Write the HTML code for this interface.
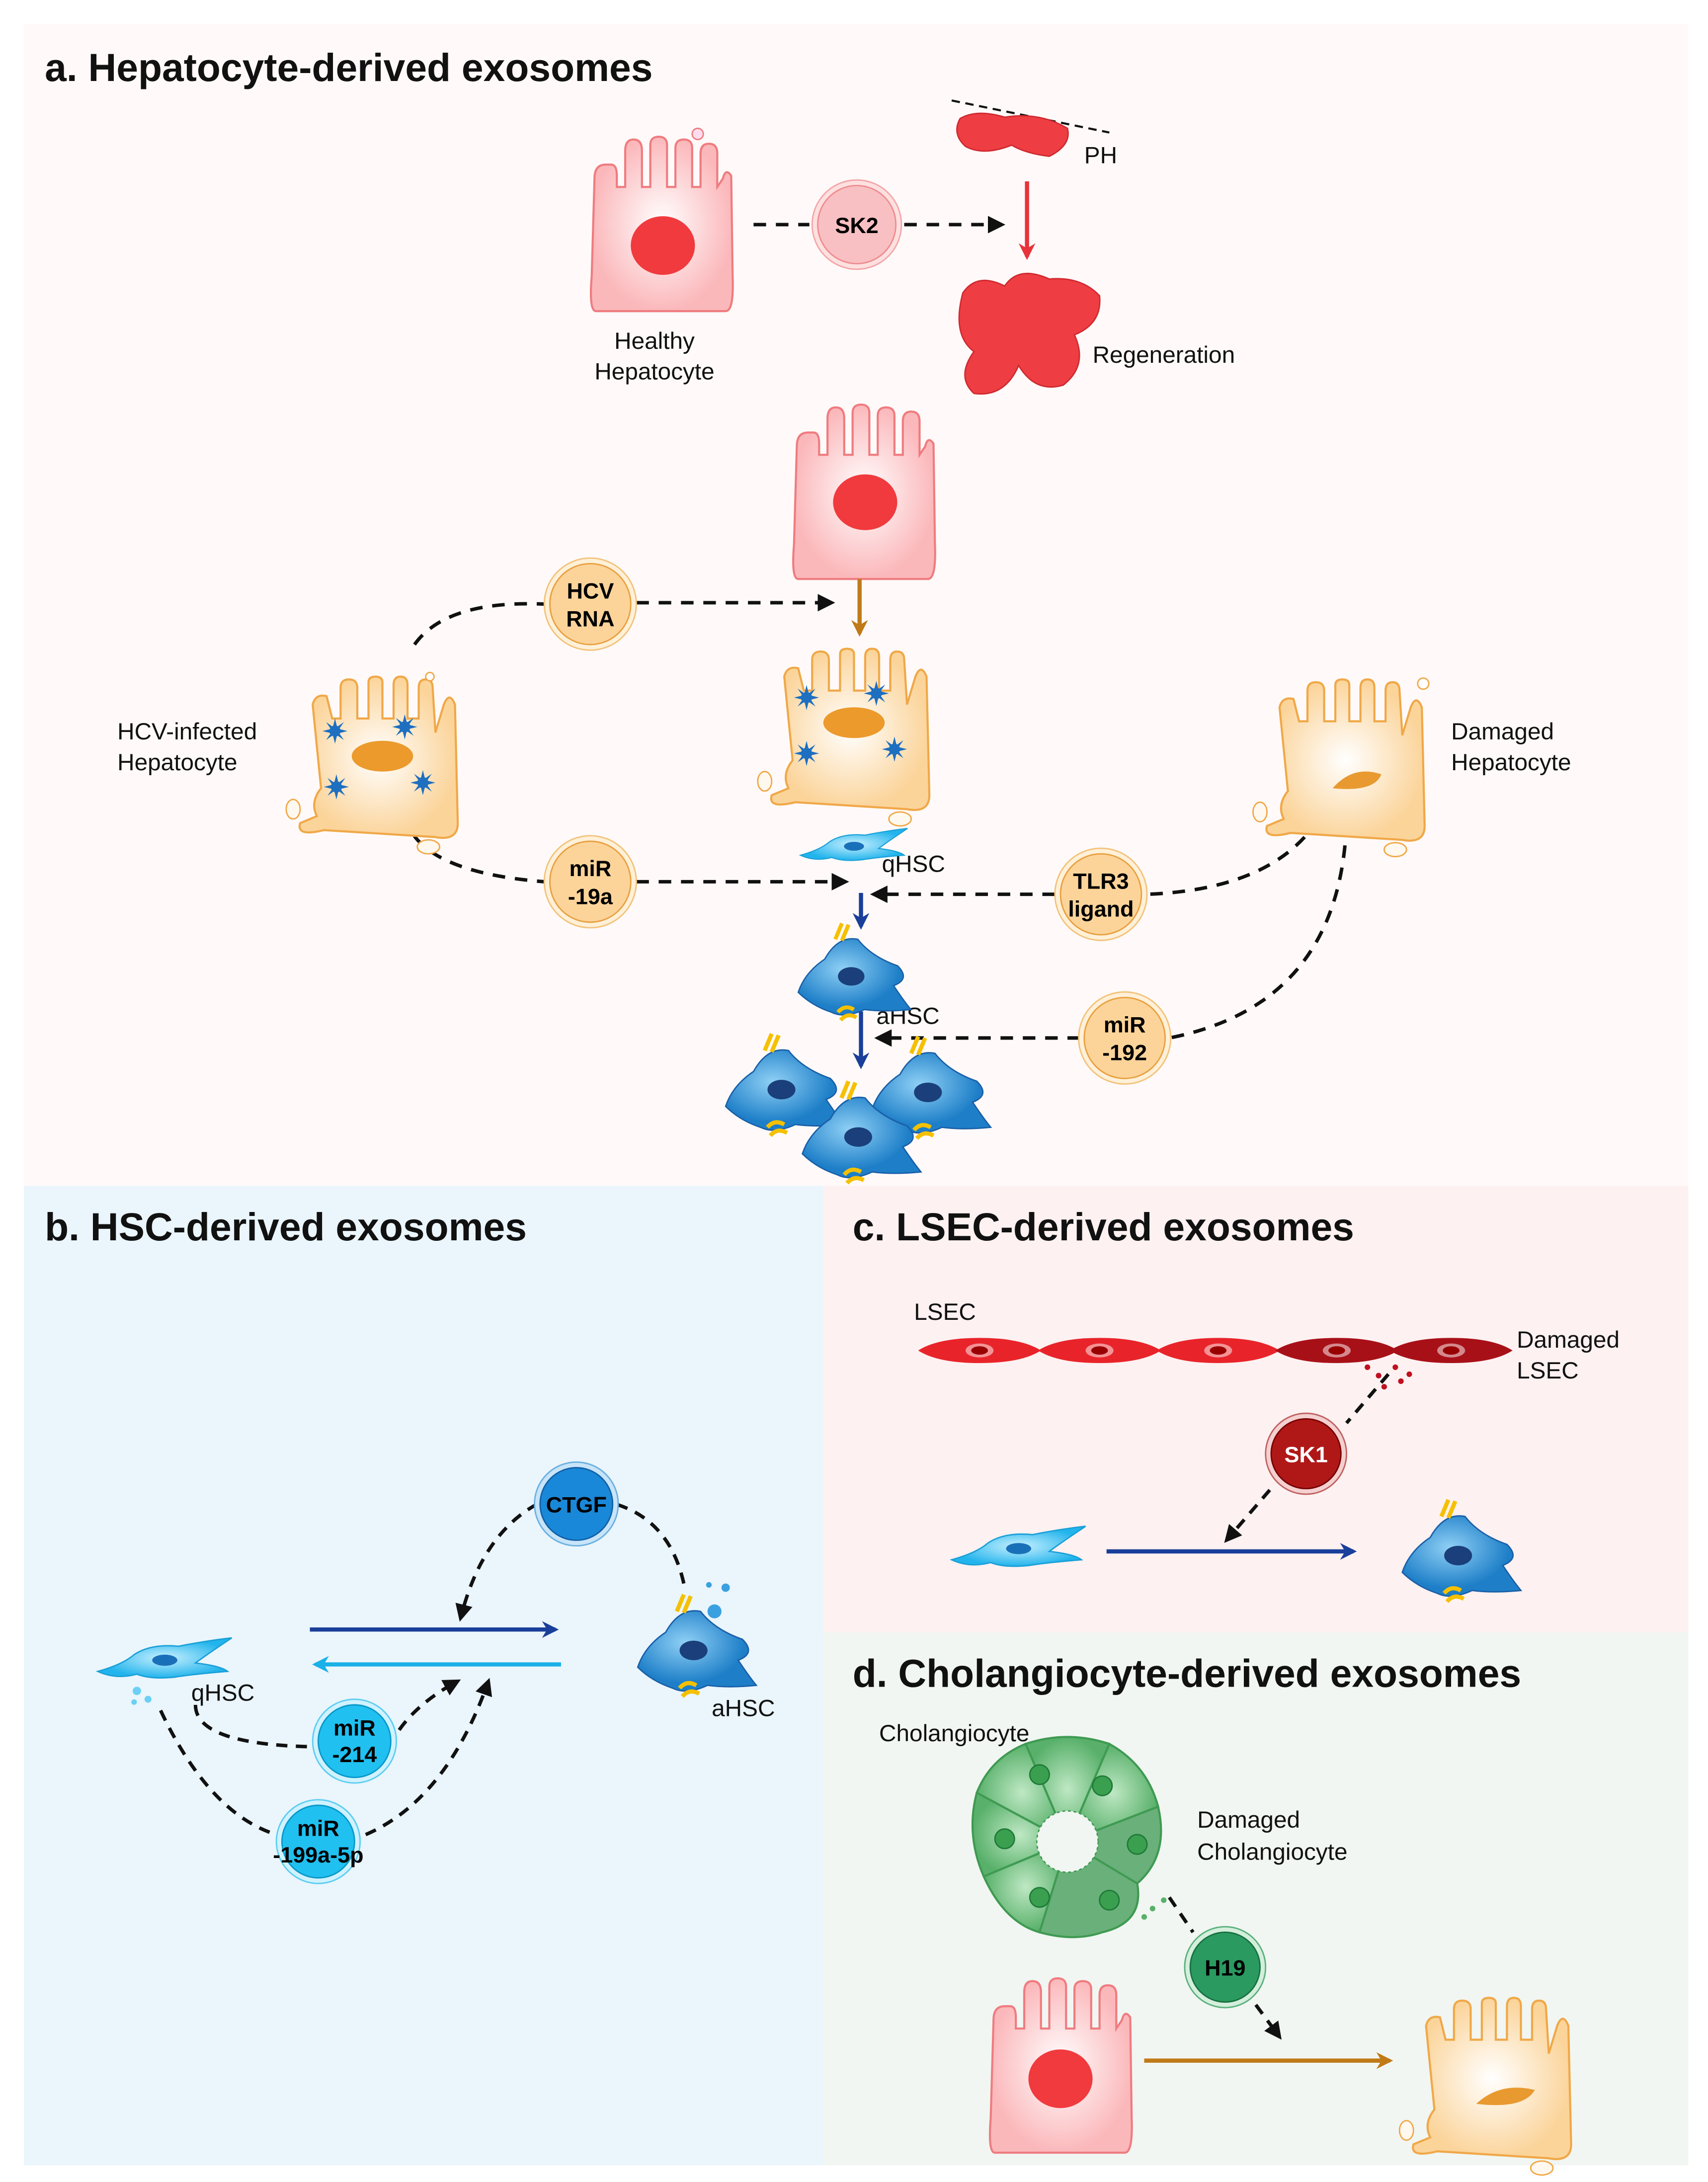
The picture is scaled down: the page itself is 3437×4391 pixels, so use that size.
<!DOCTYPE html>
<html><head><meta charset="utf-8"><style>html,body{margin:0;padding:0;background:#fff}svg{display:block}text{font-family:"Liberation Sans",sans-serif}</style></head><body>
<svg width="3437" height="4391" viewBox="0 0 1224 1564" xmlns="http://www.w3.org/2000/svg">
<defs>
<radialGradient id="gp"><stop offset="0" stop-color="#fff"/><stop offset="1" stop-color="#fbb8bb"/></radialGradient>
<radialGradient id="go"><stop offset="0" stop-color="#fff"/><stop offset="1" stop-color="#fbd49a"/></radialGradient>
<radialGradient id="gb" cx=".4" cy=".4"><stop offset="0" stop-color="#8fd0f5"/><stop offset="1" stop-color="#1e7fc8"/></radialGradient>
<radialGradient id="gq"><stop offset="0" stop-color="#c8f0ff"/><stop offset="1" stop-color="#22b4ec"/></radialGradient>
<radialGradient id="gg"><stop offset="0" stop-color="#bfe8c4"/><stop offset="1" stop-color="#58b06a"/></radialGradient>
<marker id="ah" viewBox="0 0 10 10" refX="8" refY="5" markerWidth="5" markerHeight="5" orient="auto"><path d="M0,0L10,5L0,10z" fill="#111"/></marker>
<marker id="ab" viewBox="0 0 10 10" refX="8" refY="5" markerWidth="4" markerHeight="4" orient="auto"><path d="M0,0L10,5L0,10L3,5z" fill="#1a3f9a"/></marker>
<marker id="al" viewBox="0 0 10 10" refX="8" refY="5" markerWidth="4" markerHeight="4" orient="auto"><path d="M0,0L10,5L0,10L3,5z" fill="#1ab0e8"/></marker>
<marker id="ar" viewBox="0 0 10 10" refX="8" refY="5" markerWidth="4" markerHeight="4" orient="auto"><path d="M0,0L10,5L0,10L3,5z" fill="#e8333a"/></marker>
<marker id="ao" viewBox="0 0 10 10" refX="8" refY="5" markerWidth="4" markerHeight="4" orient="auto"><path d="M0,0L10,5L0,10L3,5z" fill="#c07a18"/></marker>
<g id="hep">
<path d="M5,125 Q0,125 2,100 L4,30 Q4,20 12,20 L16,20 Q20,20 20,28 L20,36 L26,36 L26,10 Q26,2 32,2 Q38,2 38,10 L38,36 L44,36 L44,6 Q44,0 50,0 Q56,0 56,6 L56,36 L62,36 L62,8 Q62,2 68,2 Q74,2 74,8 L74,36 L80,36 L80,12 Q80,5 86,5 Q92,5 92,12 L92,36 L96,30 Q98,22 102,28 L103,100 Q104,125 98,125 Z" fill="url(#gp)" stroke="#ef7c80" stroke-width="1.5"/>
</g>
<g id="dam">
<path d="M15,100 Q10,90 18,80 L12,20 Q14,12 22,14 L26,30 L32,30 L32,8 Q32,2 38,2 Q44,2 44,8 L44,30 L52,30 L52,4 Q52,0 57,0 Q62,0 62,4 L62,30 L70,30 L70,6 Q70,0 75,0 Q80,0 80,6 L80,30 L88,30 L88,8 Q88,2 93,2 Q98,2 98,8 L100,40 L106,20 Q110,10 114,20 L116,105 Q116,118 100,115 L20,110 Q0,115 3,105 Z" fill="url(#go)" stroke="#f0a848" stroke-width="1.5"/>
<ellipse cx="95" cy="122" rx="8" ry="5" fill="#fff8ee" stroke="#f0a848"/>
<ellipse cx="-2" cy="95" rx="5" ry="7" fill="#fff8ee" stroke="#f0a848"/>
</g>
<g id="star" fill="#1e6fc0"><circle r="4"/><path d="M0,-9L1.5,-3L6.4,-6.4L3,-1.5L9,0L3,1.5L6.4,6.4L1.5,3L0,9L-1.5,3L-6.4,6.4L-3,1.5L-9,0L-3,-1.5L-6.4,-6.4L-1.5,-3Z"/></g>
<g id="ahsc"><path d="M-40,15 Q-35,0 -20,-10 Q-10,-28 5,-25 Q15,-12 35,-5 Q45,5 32,10 Q40,22 45,28 Q25,30 10,28 Q-5,35 -15,30 Q-30,25 -40,15Z" fill="url(#gb)" stroke="#1a5fa8"/><ellipse cx="0" cy="3" rx="10" ry="7" fill="#1a3f7a"/><path d="M-12,-25 l5,-12 M-7,-24 l5,-12 M-10,30 q5,-6 12,-2 M-8,36 q5,-6 12,-2" stroke="#f5c000" stroke-width="3" fill="none"/></g>
<g id="qhsc"><path d="M-48,10 Q-30,5 -22,-2 Q-10,-10 10,-8 Q30,-12 48,-14 Q30,-2 22,4 Q40,6 45,10 Q20,12 8,14 Q-10,16 -20,12 Q-35,16 -48,10Z" fill="url(#gq)" stroke="#1aa0d8"/><ellipse cx="0" cy="2" rx="9" ry="4" fill="#1a70b8"/></g>
<g id="lsec"><path d="M-44,0 Q-30,-9 0,-9 Q30,-9 44,0 Q30,9 0,9 Q-30,9 -44,0Z"/><ellipse rx="10" ry="5" fill="#fff" opacity=".5"/><ellipse rx="6" ry="3" fill="#900"/></g>
</defs>
<rect width="1224" height="1564" fill="#fff"/>
<rect x="17" y="17" width="1193" height="833" fill="#fffaf9"/>
<rect x="17" y="850" width="573" height="702" fill="#eaf5fc"/>
<rect x="590" y="850" width="620" height="320" fill="#fdf1f1"/>
<rect x="590" y="1170" width="620" height="382" fill="#f1f6f2"/>
<g font-weight="bold" font-size="28" fill="#111">
<text x="32" y="58">a. Hepatocyte-derived exosomes</text>
<text x="32" y="889">b. HSC-derived exosomes</text>
<text x="611" y="889">c. LSEC-derived exosomes</text>
<text x="611" y="1209">d. Cholangiocyte-derived exosomes</text>
</g>
<g font-size="17" fill="#111">
<text x="469" y="250" text-anchor="middle">Healthy</text><text x="469" y="272" text-anchor="middle">Hepatocyte</text>
<text x="777" y="117">PH</text><text x="783" y="260">Regeneration</text>
<text x="84" y="530">HCV-infected</text><text x="84" y="552">Hepatocyte</text>
<text x="1040" y="530">Damaged</text><text x="1040" y="552">Hepatocyte</text>
<text x="632" y="625">qHSC</text><text x="628" y="734">aHSC</text>
<text x="137" y="1219">qHSC</text><text x="510" y="1230">aHSC</text>
<text x="655" y="946">LSEC</text><text x="1087" y="966">Damaged</text><text x="1087" y="988">LSEC</text>
<text x="630" y="1248">Cholangiocyte</text><text x="858" y="1310">Damaged</text><text x="858" y="1333">Cholangiocyte</text>
</g>
<use href="#hep" x="422" y="98"/><ellipse cx="475" cy="176" rx="23" ry="21" fill="#f03a3e"/>
<circle cx="500" cy="96" r="4" fill="#fde" stroke="#ef7c80"/>
<use href="#hep" x="567" y="290"/><ellipse cx="620" cy="360" rx="23" ry="20" fill="#f03a3e"/>
<g fill="none" stroke="#111" stroke-width="2.5" stroke-dasharray="9,7">
<path d="M540,161H580"/><path d="M648,161H718" marker-end="url(#ah)"/>
<path d="M297,462Q320,430 390,433"/><path d="M456,432H596" marker-end="url(#ah)"/>
<path d="M290,585Q300,625 390,632"/><path d="M456,632H606" marker-end="url(#ah)"/>
<path d="M935,600Q900,638 822,641"/><path d="M756,641H626" marker-end="url(#ah)"/>
<path d="M965,590Q960,720 838,744"/><path d="M774,744H629" marker-end="url(#ah)"/>
</g>
<path d="M682,72L795,95" stroke="#111" stroke-width="1.5" stroke-dasharray="6,4"/>
<path d="M688,85Q700,78 720,84Q745,80 765,92Q768,104 752,112Q735,110 725,104Q705,112 692,105Q682,96 688,85Z" fill="#ee3e44" stroke="#d02a30"/>
<path d="M690,210Q700,195 720,205Q730,190 752,200Q775,198 788,212Q790,232 770,240Q780,262 762,276Q742,282 730,262Q720,285 698,282Q685,270 698,252Q682,240 690,210Z" fill="#ee3e44" stroke="#d02a30"/>
<path d="M736,130V184" stroke="#e8333a" stroke-width="3" marker-end="url(#ar)"/>
<circle cx="614" cy="161" r="32" fill="#fde0e0" stroke="#f5a5a8"/><circle cx="614" cy="161" r="28" fill="#f8c0c2" stroke="#ef8c90"/>
<text x="614" y="167" text-anchor="middle" font-weight="bold" font-size="16">SK2</text>
<path d="M616,415V454" stroke="#c07a18" stroke-width="3" marker-end="url(#ao)"/>
<use href="#dam" x="550" y="465"/><ellipse cx="612" cy="518" rx="22" ry="11" fill="#ec9a2c"/>
<use href="#star" x="578" y="500"/><use href="#star" x="628" y="497"/><use href="#star" x="578" y="540"/><use href="#star" x="641" y="537"/>
<use href="#dam" x="212" y="485"/><ellipse cx="274" cy="542" rx="22" ry="11" fill="#ec9a2c"/>
<use href="#star" x="240" y="524"/><use href="#star" x="290" y="521"/><use href="#star" x="241" y="564"/><use href="#star" x="303" y="561"/>
<use href="#dam" x="905" y="487"/><path d="M955,565Q970,548 990,555Q985,568 955,565Z" fill="#e89a30"/>
<circle cx="1020" cy="490" r="4" fill="#fff" stroke="#f0a848"/><circle cx="308" cy="485" r="3" fill="#fff" stroke="#f0a848"/>
<g font-weight="bold" font-size="16" text-anchor="middle">
<circle cx="423" cy="433" r="33" fill="#fff0d8" stroke="#f3c27a"/><circle cx="423" cy="433" r="29" fill="#fcd49a" stroke="#e8a040"/><text x="423" y="429">HCV</text><text x="423" y="449">RNA</text>
<circle cx="423" cy="632" r="33" fill="#fff0d8" stroke="#f3c27a"/><circle cx="423" cy="632" r="29" fill="#fcd49a" stroke="#e8a040"/><text x="423" y="628">miR</text><text x="423" y="648">-19a</text>
<circle cx="789" cy="641" r="33" fill="#fff0d8" stroke="#f3c27a"/><circle cx="789" cy="641" r="29" fill="#fcd49a" stroke="#e8a040"/><text x="789" y="637">TLR3</text><text x="789" y="657">ligand</text>
<circle cx="806" cy="744" r="33" fill="#fff0d8" stroke="#f3c27a"/><circle cx="806" cy="744" r="29" fill="#fcd49a" stroke="#e8a040"/><text x="806" y="740">miR</text><text x="806" y="760">-192</text>
</g>
<use href="#qhsc" transform="translate(612,605) scale(.8)"/>
<path d="M617,640V664" stroke="#1a3f9a" stroke-width="3" marker-end="url(#ab)"/>
<use href="#ahsc" transform="translate(610,697) scale(.95)"/>
<path d="M617,725V764" stroke="#1a3f9a" stroke-width="3" marker-end="url(#ab)"/>
<use href="#ahsc" x="560" y="778"/><use href="#ahsc" x="665" y="780"/><use href="#ahsc" x="615" y="812"/>
<use href="#qhsc" x="118" y="1188"/>
<circle cx="98" cy="1212" r="3" fill="#6cd0f5"/><circle cx="106" cy="1218" r="2.5" fill="#6cd0f5"/><circle cx="96" cy="1220" r="2" fill="#6cd0f5"/>
<use href="#ahsc" x="497" y="1180"/>
<circle cx="512" cy="1155" r="5" fill="#3aa0e0"/><circle cx="520" cy="1138" r="3" fill="#3aa0e0"/><circle cx="508" cy="1136" r="2" fill="#3aa0e0"/>
<path d="M222,1168H398" stroke="#1a3f9a" stroke-width="3" marker-end="url(#ab)"/>
<path d="M402,1193H226" stroke="#1ab0e8" stroke-width="3" marker-end="url(#al)"/>
<g fill="none" stroke="#111" stroke-width="2.5" stroke-dasharray="8,6">
<path d="M490,1135Q480,1090 441,1078"/><path d="M385,1078Q345,1100 330,1160" marker-end="url(#ah)"/>
<path d="M140,1222Q140,1250 222,1252"/><path d="M286,1240Q300,1220 328,1205" marker-end="url(#ah)"/>
<path d="M115,1226Q150,1300 198,1315"/><path d="M262,1315Q320,1290 350,1205" marker-end="url(#ah)"/>
<path d="M995,985L965,1020"/><path d="M910,1068L879,1104" marker-end="url(#ah)"/>
<path d="M838,1360L855,1385"/><path d="M900,1437L917,1460" marker-end="url(#ah)"/>
</g>
<g font-weight="bold" font-size="16" text-anchor="middle">
<circle cx="413" cy="1078" r="30" fill="#c8e4f8" stroke="#6ab0e0"/><circle cx="413" cy="1078" r="26" fill="#1a88d8" stroke="#1060a8"/><text x="413" y="1084">CTGF</text>
<circle cx="254" cy="1248" r="30" fill="#d0f2ff" stroke="#5ccdf2"/><circle cx="254" cy="1248" r="26" fill="#20c0f0" stroke="#0898c8"/><text x="254" y="1244">miR</text><text x="254" y="1263">-214</text>
<circle cx="228" cy="1320" r="30" fill="#d0f2ff" stroke="#5ccdf2"/><circle cx="228" cy="1320" r="26" fill="#20c0f0" stroke="#0898c8"/><text x="228" y="1316">miR</text><text x="228" y="1335">-199a-5p</text>
<circle cx="936" cy="1042" r="29" fill="#f4d0d0" stroke="#c06060"/><circle cx="936" cy="1042" r="25" fill="#b01818" stroke="#700"/><text x="936" y="1048" fill="#fff">SK1</text>
<circle cx="878" cy="1410" r="29" fill="#d4eedc" stroke="#58b07a"/><circle cx="878" cy="1410" r="25" fill="#2a9a60" stroke="#17703f"/><text x="878" y="1416">H19</text>
</g>
<use href="#lsec" x="702" y="968" fill="#e8242a"/><use href="#lsec" x="788" y="968" fill="#e8242a"/><use href="#lsec" x="873" y="968" fill="#e8242a"/>
<use href="#lsec" x="958" y="968" fill="#a81018"/><use href="#lsec" x="1040" y="968" fill="#a81018"/>
<g fill="#c01020"><circle cx="980" cy="980" r="2"/><circle cx="988" cy="986" r="2"/><circle cx="1000" cy="980" r="2"/><circle cx="1010" cy="985" r="2"/><circle cx="1004" cy="990" r="2"/><circle cx="992" cy="994" r="2"/></g>
<use href="#qhsc" x="730" y="1108"/>
<path d="M793,1112H970" stroke="#1a3f9a" stroke-width="3" marker-end="url(#ab)"/>
<use href="#ahsc" x="1045" y="1112"/>
<g stroke="#3f9a52" stroke-width="1.5">
<path d="M765,1320L735,1250Q765,1240 795,1250Z" fill="url(#gg)"/>
<path d="M765,1320L795,1250Q822,1265 830,1295Z" fill="url(#gg)"/>
<path d="M765,1320L700,1285Q710,1260 735,1250Z" fill="url(#gg)"/>
<path d="M765,1320L700,1285Q692,1315 705,1345Z" fill="url(#gg)"/>
<path d="M765,1320L705,1345Q720,1378 745,1385Z" fill="url(#gg)"/>
<path d="M765,1320L745,1385Q770,1392 790,1385Q820,1378 815,1350Z" fill="#6ab07a"/>
<path d="M765,1320L815,1350Q838,1330 830,1295Z" fill="#6ab07a"/>
</g>
<circle cx="765" cy="1320" r="22" fill="#f1f6f2" stroke="#3f9a52" stroke-dasharray="2,2"/>
<g fill="#3aa050" stroke="#1f7a38"><circle cx="745" cy="1272" r="7"/><circle cx="790" cy="1280" r="7"/><circle cx="720" cy="1318" r="7"/><circle cx="745" cy="1360" r="7"/><circle cx="795" cy="1362" r="7"/><circle cx="815" cy="1322" r="7"/></g>
<g fill="#58b06a"><circle cx="826" cy="1368" r="2"/><circle cx="820" cy="1374" r="2"/><circle cx="834" cy="1362" r="2"/></g>
<use href="#hep" x="708" y="1418"/><ellipse cx="760" cy="1490" rx="23" ry="21" fill="#f03a3e"/>
<path d="M820,1477H996" stroke="#c07a18" stroke-width="3" marker-end="url(#ao)"/>
<use href="#dam" x="1010" y="1432"/><path d="M1058,1508Q1075,1492 1100,1498Q1092,1512 1058,1508Z" fill="#e89a30"/>
</svg>
</body></html>
